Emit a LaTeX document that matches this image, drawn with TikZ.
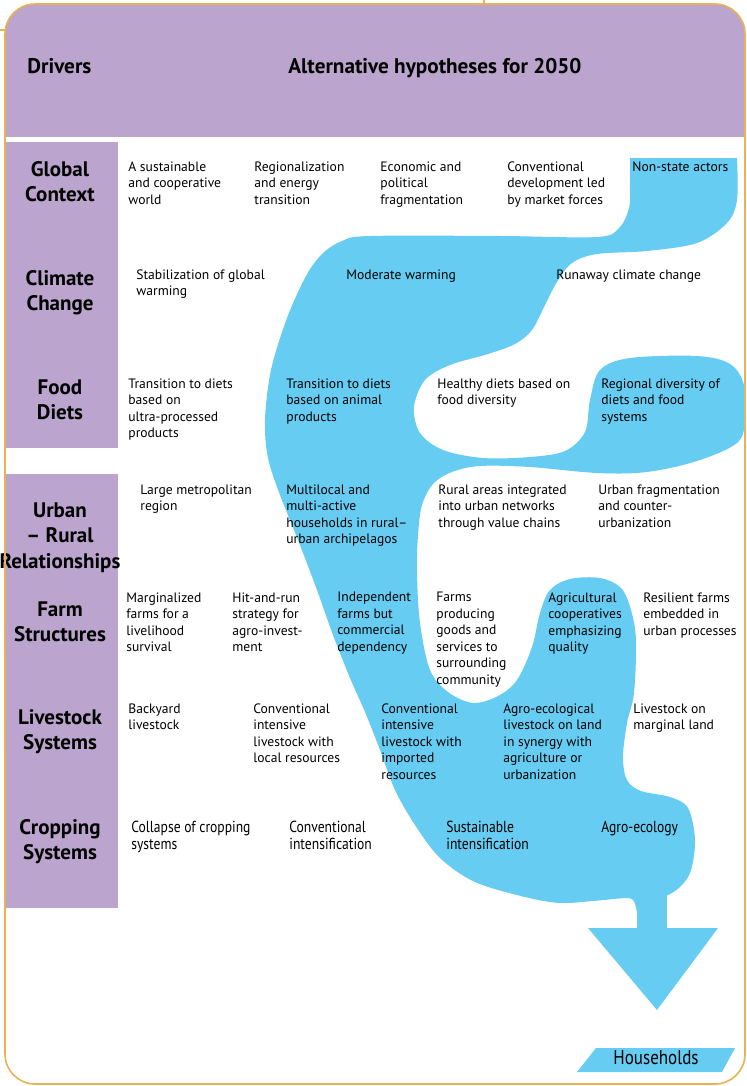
\documentclass[tikz,border=0pt]{standalone}
\usepackage{fontspec}
\setmainfont{PT Sans}
\newfontfamily\condfont[FakeStretch=0.85]{PT Sans}
\definecolor{flowblue}{RGB}{102,204,242}
\definecolor{drvpurple}{RGB}{187,164,205}
\definecolor{frameorange}{RGB}{232,178,84}

\begin{document}
\begin{tikzpicture}[x=0.5pt, y=-0.5pt,
    hyp/.style={anchor=north west, inner sep=0pt, align=left, font=\fontsize{6.8}{8.25}\selectfont},
    hypc/.style={hyp, font=\condfont\fontsize{8}{8.35}\selectfont},
    drv/.style={anchor=north, inner sep=0pt, align=center, font=\bfseries\fontsize{10.5}{12.75}\selectfont},
    head/.style={anchor=base west, inner sep=0pt, font=\bfseries\fontsize{10.6}{12}\selectfont},
    flow/.style={fill=flowblue},
    frame/.style={draw=frameorange, line width=0.8pt}]
    \useasboundingbox (0,0) rectangle (747,1086);

    \begin{scope}
        \clip[rounded corners=15pt] (5,4) rectangle (745,1084);
        \fill[drvpurple] (5,4) rectangle (745,137);
    \end{scope}
    \fill[drvpurple] (5,142) rectangle (118,448);
    \fill[drvpurple] (5,474) rectangle (118,908);

    \fill[flow] (630,158) -- (737,158) -- plot[smooth, tension=0.55] coordinates {
        (737,158) (737,200) (727,223) (697,243) (647,251) (597,254) (572,263)
        (557,282) (545,305) (532,330) (515,344) (488,354) (450,365) (425,380)
        (414,407) (420,433) (443,450) (483,458) (530,457) (565,451) (585,432)
        (590,400) (600,370) (630,358) (697,356) (730,364) (744,385) (745,420)
        (737,443) (697,461) (647,472) (597,473) (530,467) (480,466) (452,472)
        (433,484) (422,505) (418,535) (417,573) (420,623) (430,670) (448,692)
        (473,703) (498,696) (517,680) (532,647) (540,613) (550,590) (570,579)
        (600,578) (621,588) (631,610) (636,640) (634,693) (627,723) (623,757)
        (627,780) (641,791) (670,797) (688,808) (695,840) (690,873) (675,891)
        (655,899) (627,898) (593,901) (560,903) (525,897) (475,882) (440,858)
        (415,825) (395,790) (380,750) (365,712) (350,678) (333,635) (317,590)
        (298,540) (280,495) (268,458) (265,420) (271,370) (287,318) (306,276)
        (322,254) (342,241) (370,236) (500,236) (597,237) (619,228) (629,208)
        (630,185) (630,158)} -- cycle;
    \fill[flow] (637,885) rectangle (667,929);
    \fill[flow] (620,897) .. controls (634,898) .. (637,912) -- (637,895) -- cycle;
    \fill[flow] (588,928) -- (718,928) -- (657,1010) -- cycle;
    \fill[flow] (596,1048) -- (735,1048) -- (722,1072) -- (577,1072) -- cycle;

    \node[head] (drivers) at (27,74) {Drivers};
    \node[head] (alt) at (288,74) {Alternative hypotheses for 2050};

    \foreach \y/\txt [count=\i] in {161/{Global\\Context}, 270/{Climate\\Change}, 379/{Food\\Diets},
        502/{Urban\\– Rural\\Relationships}, 601/{Farm\\Structures}, 709/{Livestock\\Systems},
        819/{Cropping\\Systems}}
        \node[drv] (drv\i) at (60,\y) {\txt};

    \foreach \x/\txt [count=\i] in {128/{A sustainable\\and cooperative\\world},
        254/{Regionalization\\and energy\\transition}, 380/{Economic and\\political\\fragmentation},
        507/{Conventional\\development led\\by market forces}, 632/{Non-state actors}}
        \node[hyp] (glob\i) at (\x,161) {\txt};

    \foreach \x/\txt [count=\i] in {136/{Stabilization of global\\warming},
        346/{Moderate warming}, 556/{Runaway climate change}}
        \node[hyp] (clim\i) at (\x,269) {\txt};

    \foreach \x/\txt [count=\i] in {128/{Transition to diets\\based on\\ultra-processed\\products},
        286/{Transition to diets\\based on animal\\products}, 437/{Healthy diets based on\\food diversity},
        601/{Regional diversity of\\diets and food\\systems}}
        \node[hyp] (diet\i) at (\x,378) {\txt};

    \foreach \x/\txt [count=\i] in {140/{Large metropolitan\\region},
        286/{Multilocal and\\multi-active\\households in rural–\\urban archipelagos},
        438/{Rural areas integrated\\into urban networks\\through value chains},
        598/{Urban fragmentation\\and counter-\\urbanization}}
        \node[hyp] (urban\i) at (\x,484) {\txt};

    \foreach \x/\txt [count=\i] in {126/{Marginalized\\farms for a\\livelihood\\survival},
        232/{Hit-and-run\\strategy for\\agro-invest-\\ment}, 337/{Independent\\farms but\\commercial\\dependency},
        436/{Farms\\producing\\goods and\\services to\\surrounding\\community},
        548/{Agricultural\\cooperatives\\emphasizing\\quality}, 643/{Resilient farms\\embedded in\\urban processes}}
        \node[hyp] (farm\i) at (\x,592) {\txt};

    \foreach \x/\txt [count=\i] in {128/{Backyard\\livestock},
        253/{Conventional\\intensive\\livestock with\\local resources},
        381/{Conventional\\intensive\\livestock with\\imported\\resources},
        503/{Agro-ecological\\livestock on land\\in synergy with\\agriculture or\\urbanization},
        633/{Livestock on\\marginal land}}
        \node[hyp] (live\i) at (\x,703) {\txt};

    \foreach \x/\txt [count=\i] in {131/{Collapse of cropping\\systems}, 289/{Conventional\\intensification},
        446/{Sustainable\\intensification}, 601/{Agro-ecology}}
        \node[hypc] (crop\i) at (\x,820.5) {\txt};

    \node[anchor=base, inner sep=0pt, font=\condfont\fontsize{10}{12}\selectfont] (hh) at (656,1064) {Households};

    \draw[frame, rounded corners=15pt] (5,4) rectangle (745,1084);
    \draw[frame] (0,30) -- (5,30);
    \draw[frame] (484,0) -- (484,4);
\end{tikzpicture}
\end{document}
